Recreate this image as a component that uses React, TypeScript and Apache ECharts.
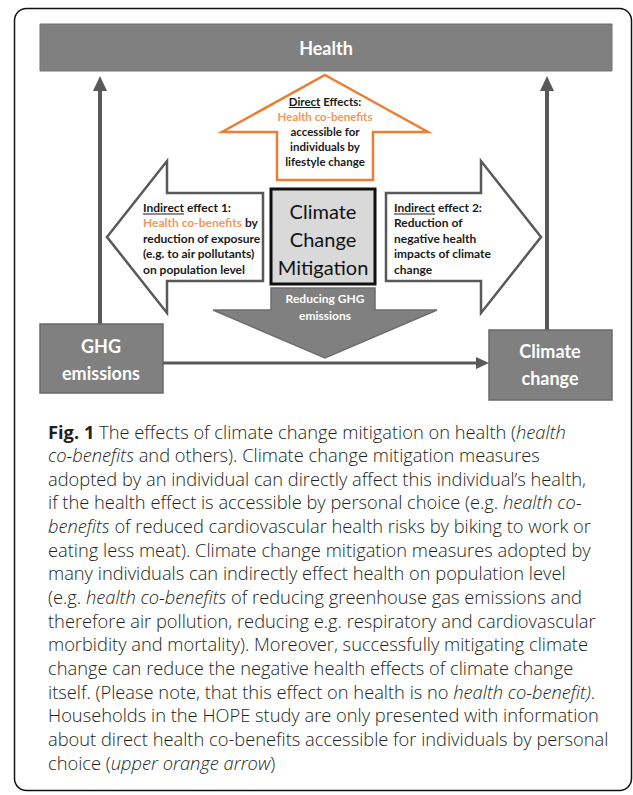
import React, { useEffect, useRef } from "react";
import * as echarts from "echarts";

const healthLabel = "Health";
const directLines = ["Direct Effects:", "{o|Health co-benefits}", "accessible for", "individuals by", "lifestyle change"];
const indirect1Lines = ["Indirect effect 1:", "{o|Health co-benefits} by", "reduction of exposure", "(e.g. to air pollutants)", "on population level"];
const indirect2Lines = ["Indirect effect 2:", "Reduction of", "negative health", "impacts of climate", "change"];
const mitigationLines = ["Climate", "Change", "Mitigation"];
const reducingLines = ["Reducing GHG", "emissions"];
const ghgLines = ["GHG", "emissions"];
const climateChangeLines = ["Climate", "change"];
const captionLines = [
  "{b|Fig. 1} The effects of climate change mitigation on health ({i|health}",
  "{i|co-benefits} and others). Climate change mitigation measures",
  "adopted by an individual can directly affect this individual\u2019s health,",
  "if the health effect is accessible by personal choice (e.g. {i|health co-}",
  "{i|benefits} of reduced cardiovascular health risks by biking to work or",
  "eating less meat). Climate change mitigation measures adopted by",
  "many individuals can indirectly effect health on population level",
  "(e.g. {i|health co-benefits} of reducing greenhouse gas emissions and",
  "therefore air pollution, reducing e.g. respiratory and cardiovascular",
  "morbidity and mortality). Moreover, successfully mitigating climate",
  "change can reduce the negative health effects of climate change",
  "itself. (Please note, that this effect on health is no {i|health co-benefit)}.",
  "Households in the HOPE study are only presented with information",
  "about direct health co-benefits accessible for individuals by personal",
  "choice ({i|upper orange arrow})",
];

const ORANGE = "#ED7D31";
const ORANGE_TEXT = "#F3985B";
const DARK = "#595959";
const BAR = "#808080";
const DFONT = "Lato";
const CFONT = "Open Sans";

function measure(text: string, font: string) {
  const c = document.createElement("canvas").getContext("2d")!;
  c.font = font;
  return c.measureText(text).width;
}

export default function App() {
  const ref = useRef<HTMLDivElement>(null);
  useEffect(() => {
    if (!ref.current) return;
    const chart = echarts.init(ref.current, null, { renderer: "svg" });
    const els: any[] = [];

    const txt = (x: number, y: number, text: string, o: any = {}) => ({
      type: "text",
      x,
      y,
      z: 10,
      style: {
        text,
        fill: o.fill || "#1a1a1a",
        fontFamily: o.fontFamily || DFONT,
        fontSize: o.fontSize || 11,
        fontWeight: o.fontWeight || "bold",
        fontStyle: o.fontStyle || "normal",
        textAlign: o.align || "center",
        align: o.align || "center",
        textVerticalAlign: "middle",
        verticalAlign: "middle",
        rich: o.rich,
      },
    });

    // outer frame
    els.push({
      type: "rect",
      shape: { x: 14.5, y: 8.5, width: 617, height: 782, r: 12 },
      style: { fill: "none", stroke: "#111", lineWidth: 1.5 },
    });

    // Health bar
    els.push({
      type: "rect",
      shape: { x: 40, y: 24, width: 572, height: 47 },
      style: { fill: BAR, stroke: "#737373", lineWidth: 1 },
    });
    els.push(txt(326, 48, healthLabel, { fill: "#fff", fontSize: 18 }));

    // vertical gray arrows
    const vArrow = (x: number, yBottom: number) => {
      els.push({ type: "line", shape: { x1: x, y1: yBottom, x2: x, y2: 88 }, style: { stroke: DARK, lineWidth: 4 } });
      els.push({ type: "polygon", shape: { points: [[x, 76], [x - 7, 91], [x + 7, 91]] }, style: { fill: DARK } });
    };
    vArrow(100, 324);
    vArrow(547, 330);

    // orange up arrow
    els.push({
      type: "polygon",
      shape: { points: [[325, 75], [428, 132], [373, 132], [373, 180], [277, 180], [277, 132], [222, 132]] },
      style: { fill: "#fff", stroke: ORANGE, lineWidth: 2.5, lineJoin: "miter" },
    });
    const dfs = 11.5;
    const dFont = `bold ${dfs}px ${DFONT}`;
    const dY = [101, 116, 131, 146, 161];
    directLines.forEach((l, i) => {
      els.push(txt(325, dY[i], l, { fontSize: dfs, rich: { o: { fill: ORANGE_TEXT, fontFamily: DFONT, fontSize: dfs, fontWeight: "bold" } } }));
    });
    {
      const fw = measure("Direct Effects:", dFont);
      const uw = measure("Direct", dFont);
      const sx = 325 - fw / 2;
      els.push({ type: "line", shape: { x1: sx, y1: dY[0] + 6.5, x2: sx + uw, y2: dY[0] + 6.5 }, style: { stroke: "#1a1a1a", lineWidth: 1 } });
    }

    // left white arrow
    els.push({
      type: "polygon",
      shape: { points: [[107, 237], [167, 161], [167, 193], [263, 193], [263, 281], [167, 281], [167, 313]] },
      style: { fill: "#fff", stroke: DARK, lineWidth: 2.5 },
    });
    // right white arrow
    els.push({
      type: "polygon",
      shape: { points: [[386, 193], [481, 193], [481, 161], [541, 237], [481, 313], [481, 281], [386, 281]] },
      style: { fill: "#fff", stroke: DARK, lineWidth: 2.5 },
    });
    const sfs = 12;
    const sFont = `bold ${sfs}px ${DFONT}`;
    const sideY = [207, 222.5, 238, 253.5, 269];
    indirect1Lines.forEach((l, i) => {
      els.push(txt(143, sideY[i], l, { align: "left", fontSize: sfs, rich: { o: { fill: ORANGE_TEXT, fontFamily: DFONT, fontSize: sfs, fontWeight: "bold" } } }));
    });
    indirect2Lines.forEach((l, i) => {
      els.push(txt(394, sideY[i], l, { align: "left", fontSize: sfs }));
    });
    const uw2 = measure("Indirect", sFont);
    els.push({ type: "line", shape: { x1: 143, y1: sideY[0] + 7, x2: 143 + uw2, y2: sideY[0] + 7 }, style: { stroke: "#1a1a1a", lineWidth: 1 } });
    els.push({ type: "line", shape: { x1: 394, y1: sideY[0] + 7, x2: 394 + uw2, y2: sideY[0] + 7 }, style: { stroke: "#1a1a1a", lineWidth: 1 } });

    // Climate change mitigation box
    els.push({
      type: "rect",
      shape: { x: 271, y: 189, width: 104, height: 95 },
      style: { fill: "#d9d9d9", stroke: "#111", lineWidth: 3 },
    });
    const mY = [211, 239, 267];
    mitigationLines.forEach((l, i) => els.push(txt(323, mY[i], l, { fontSize: 20, fontWeight: "normal", fill: "#111" })));

    // Reducing GHG emissions arrow
    els.push({
      type: "polygon",
      shape: { points: [[271, 288], [375, 288], [375, 310], [437, 310], [325, 358], [213, 310], [271, 310]] },
      style: { fill: BAR, stroke: "#6e6e6e", lineWidth: 1.5 },
    });
    const rY = [298, 315];
    reducingLines.forEach((l, i) => els.push(txt(325, rY[i], l, { fill: "#fff", fontSize: 12 })));

    // GHG box & Climate change box
    els.push({ type: "rect", shape: { x: 40, y: 324, width: 123, height: 69 }, style: { fill: BAR, stroke: "#6a6a6a", lineWidth: 1.5 } });
    els.push({ type: "rect", shape: { x: 489, y: 330, width: 123, height: 70 }, style: { fill: BAR, stroke: "#6a6a6a", lineWidth: 1.5 } });
    [346, 373].forEach((y, i) => els.push(txt(101, y, ghgLines[i], { fill: "#fff", fontSize: 18 })));
    [351, 378].forEach((y, i) => els.push(txt(550, y, climateChangeLines[i], { fill: "#fff", fontSize: 18 })));

    // horizontal arrow
    els.push({ type: "line", shape: { x1: 163, y1: 363, x2: 478, y2: 363 }, style: { stroke: DARK, lineWidth: 3 } });
    els.push({ type: "polygon", shape: { points: [[489, 363], [476, 357], [476, 369]] }, style: { fill: DARK } });

    // caption: fit the widest line to the caption width
    const plain = (s: string) => s.replace(/\{[a-z]\|([^}]*)\}/g, "$1");
    const maxW100 = Math.max(...captionLines.map((l) => measure(plain(l), `300 100px "${CFONT}"`)));
    const cfs = Math.round(((100 * 562) / maxW100) * 10) / 10;
    captionLines.forEach((l, i) => {
      els.push(
        txt(48, 431 + i * 23.65, l, {
          align: "left",
          fontFamily: CFONT,
          fontSize: cfs,
          fontWeight: 300,
          fill: "#231f20",
          rich: {
            b: { fontFamily: CFONT, fontSize: cfs, fontWeight: "bold", fill: "#231f20" },
            i: { fontFamily: CFONT, fontSize: cfs, fontWeight: 300, fontStyle: "italic", fill: "#231f20" },
          },
        })
      );
    });

    chart.setOption({ animation: false, graphic: { elements: els } });
    return () => chart.dispose();
  }, []);
  return <div ref={ref} style={{ position: "fixed", left: 0, top: 0, width: 633, height: 795, background: "#fff" }} />;
}
